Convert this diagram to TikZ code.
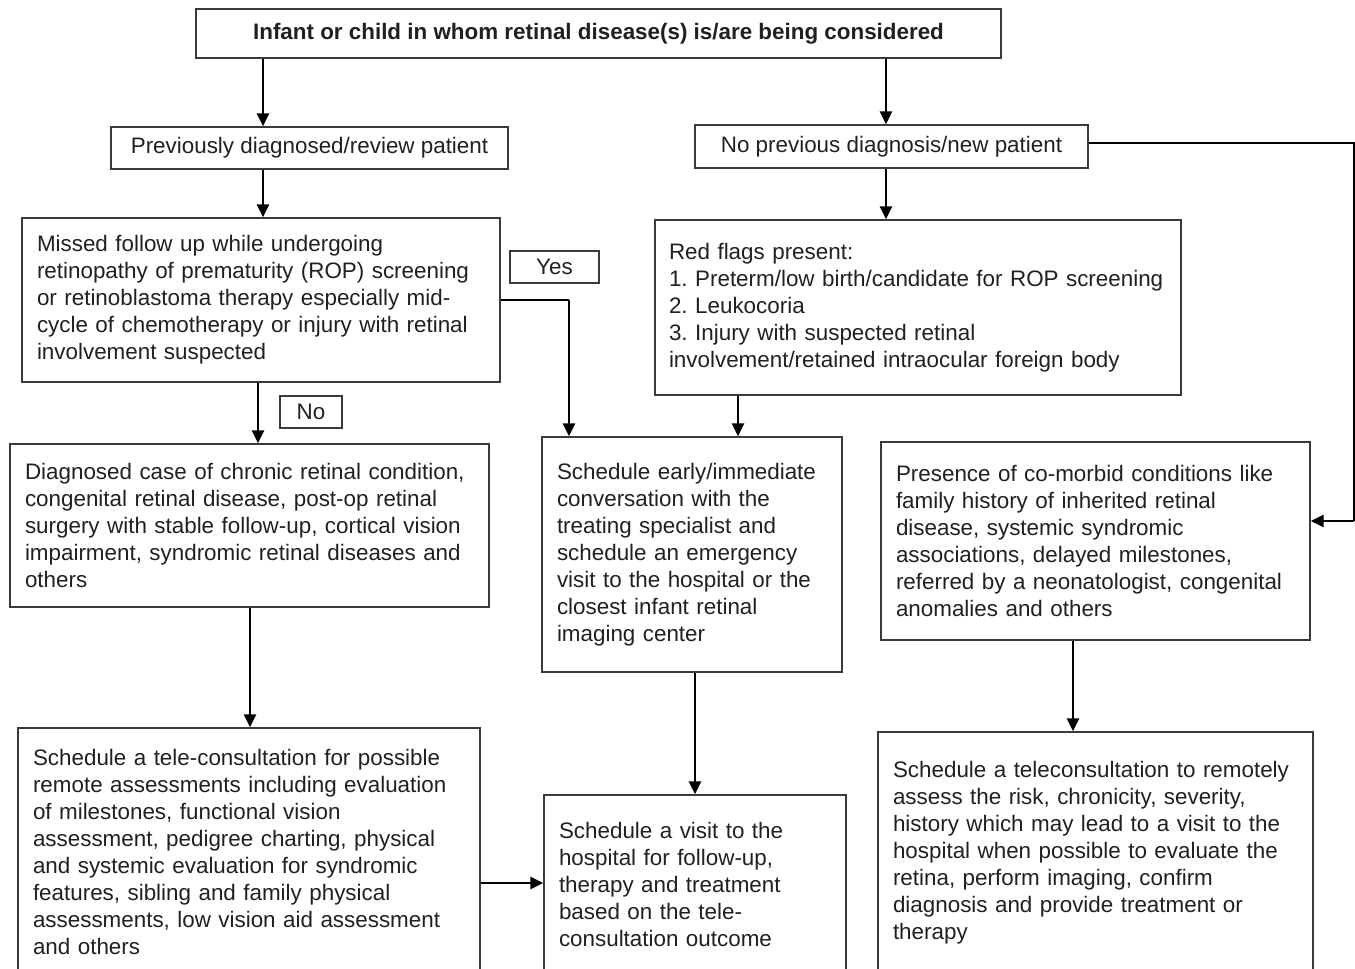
\documentclass[tikz,border=0pt]{standalone}
\usepackage{fontspec}
\setmainfont{Liberation Sans}
\usetikzlibrary{arrows.meta}
\definecolor{ink}{HTML}{231F20}
\definecolor{frame}{HTML}{3A3A3A}
\frenchspacing
\hyphenpenalty=10000
\exhyphenpenalty=10000
\begin{document}
\begin{tikzpicture}[x=1pt,y=-1pt,
  box/.style={draw=frame, line width=1.3pt, inner xsep=15pt, inner ysep=0pt, align=left, text=ink, font=\fontsize{22.4}{27}\selectfont},
  cbox/.style={draw=frame, line width=1.3pt, inner sep=0pt, align=center, text=ink, font=\fontsize{22.4}{27}\selectfont},
  arr/.style={draw=black, line width=2.6pt, -{Triangle[length=13pt,width=12pt]}},
  thinline/.style={draw=black, line width=1.3pt}]
\useasboundingbox (0,0) rectangle (1355,969);
\clip (0,0) rectangle (1355,969);

% boxes
\node[cbox, minimum width=805pt, minimum height=49pt] (top) at (598.5,33.5)
  {\textbf{Infant or child in whom retinal disease(s) is/are being considered}};
\node[cbox, minimum width=397pt, minimum height=42pt] (prev) at (309.5,148)
  {Previously diagnosed/review patient};
\node[cbox, minimum width=393pt, minimum height=43pt] (nprev) at (891.5,146.5)
  {No previous diagnosis/new patient};
\node[box, text width=448pt, minimum height=164pt] (missed) at (261,300)
  {Missed follow up while undergoing\\retinopathy of prematurity (ROP) screening\\or retinoblastoma therapy especially mid-\\cycle of chemotherapy or injury with retinal\\involvement suspected};
\node[cbox, minimum width=89pt, minimum height=32pt] (yes) at (554.5,267) {Yes};
\node[cbox, minimum width=62pt, minimum height=32pt] (no) at (311,412) {No};
\node[box, text width=449pt, minimum height=163pt] (diag) at (249.5,525.5)
  {Diagnosed case of chronic retinal condition,\\congenital retinal disease, post-op retinal\\surgery with stable follow-up, cortical vision\\impairment, syndromic retinal diseases and\\others};
\node[box, text width=432pt, minimum height=248pt] (tele) at (249,852)
  {Schedule a tele-consultation for possible\\remote assessments including evaluation\\of milestones, functional vision\\assessment, pedigree charting, physical\\and systemic evaluation for syndromic\\features, sibling and family physical\\assessments, low vision aid assessment\\and others};
\node[box, text width=270pt, minimum height=235pt] (early) at (692,554.5)
  {Schedule early/immediate\\conversation with the\\treating specialist and\\schedule an emergency\\visit to the hospital or the\\closest infant retinal\\imaging center};
\node[box, text width=272pt, minimum height=179pt] (visit) at (695,884.5)
  {Schedule a visit to the\\hospital for follow-up,\\therapy and treatment\\based on the tele-\\consultation outcome};
\node[box, inner xsep=14pt, text width=498pt, minimum height=175pt] (red) at (918,307.5)
  {Red flags present:\\1. Preterm/low birth/candidate for ROP screening\\2. Leukocoria\\3. Injury with suspected retinal\\involvement/retained intraocular foreign body};
\node[box, text width=399pt, minimum height=198pt] (comorb) at (1095.5,541)
  {Presence of co-morbid conditions like\\family history of inherited retinal\\disease, systemic syndromic\\associations, delayed milestones,\\referred by a neonatologist, congenital\\anomalies and others};
\node[box, text width=405pt, minimum height=242pt] (right) at (1095.5,853)
  {Schedule a teleconsultation to remotely\\assess the risk, chronicity, severity,\\history which may lead to a visit to the\\hospital when possible to evaluate the\\retina, perform imaging, confirm\\diagnosis and provide treatment or\\therapy};

% helper coordinates for connector positions
\coordinate (cA) at (263,0);
\coordinate (cB) at (886,0);
\coordinate (cD) at (258,0);
\coordinate (cE) at (250,0);
\coordinate (cY) at (569,300);
\coordinate (cF) at (738,0);
\coordinate (cH) at (695,0);
\coordinate (cT) at (0,883);
\coordinate (cN) at (0,143);
\coordinate (cR) at (1354,521);
\coordinate (cI) at (1073,0);

% connectors
\draw[arr] (top.south -| cA) -- (prev.north -| cA);
\draw[arr] (top.south -| cB) -- (nprev.north -| cB);
\draw[arr] (prev.south -| cA) -- (missed.north -| cA);
\draw[arr] (missed.south -| cD) -- (diag.north -| cD);
\draw[arr] (diag.south -| cE) -- (tele.north -| cE);
\draw[thinline] (missed.east) -- (cY);
\draw[arr] (cY) -- (early.north -| cY);
\draw[arr] (nprev.south -| cB) -- (red.north -| cB);
\draw[arr] (red.south -| cF) -- (early.north -| cF);
\draw[arr] (early.south -| cH) -- (visit.north -| cH);
\draw[arr] (tele.east |- cT) -- (visit.west |- cT);
\draw[thinline] (nprev.east |- cN) -| (cR);
\draw[arr] (cR) -- (comorb.east |- cR);
\draw[arr] (comorb.south -| cI) -- (right.north -| cI);
\end{tikzpicture}
\end{document}
